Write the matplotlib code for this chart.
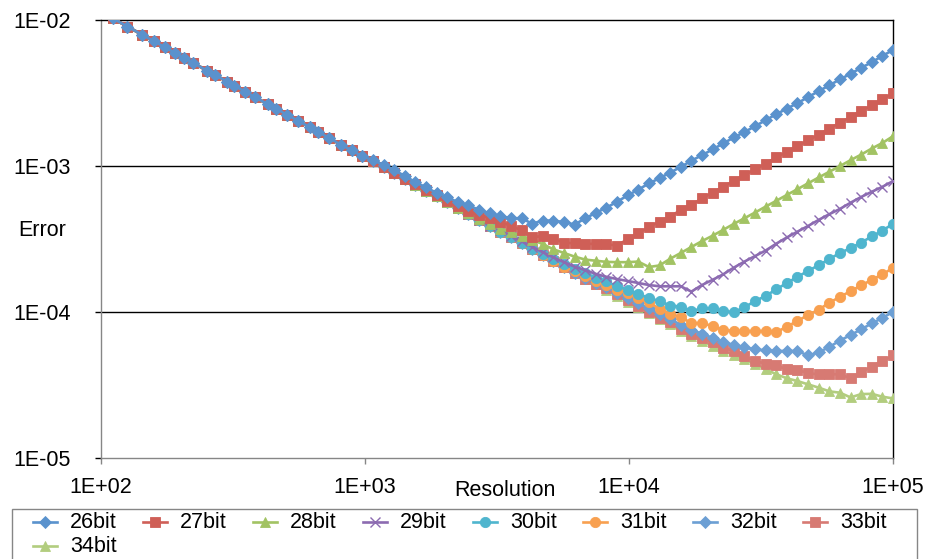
import matplotlib
matplotlib.use("Agg")
import matplotlib.pyplot as plt
from matplotlib.lines import Line2D
from matplotlib.patches import Rectangle
from matplotlib.ticker import FixedLocator, FixedFormatter, NullLocator

plt.rcParams['font.family'] = ['Liberation Sans', 'DejaVu Sans']

# ---- data -------------------------------------------------------------
resolution = [111, 126, 143, 159, 175, 191, 206, 223, 252, 270, 300, 319,
              351, 383, 429, 460, 507, 558, 619, 664, 731, 811, 893, 974,
              1072, 1176, 1290, 1415, 1552, 1703, 1868, 2049, 2248, 2466,
              2705, 2968, 3255, 3571, 3917, 4297, 4715, 5172, 5674, 6223,
              6828, 7490, 8215, 9012, 9886, 10844, 11896, 13050, 14316,
              15704, 17227, 18898, 20730, 22741, 24946, 27365, 30020, 32931,
              36124, 39628, 43471, 47687, 52312, 57385, 62951, 69055, 75752,
              83098, 91155, 100000]

# low-resolution part, identical for every word length
head_error = [1.02e-2, 8.97e-3, 7.90e-3, 7.11e-3, 6.46e-3, 5.92e-3, 5.49e-3,
              5.07e-3, 4.48e-3, 4.19e-3, 3.77e-3, 3.54e-3, 3.22e-3, 2.95e-3,
              2.63e-3, 2.46e-3, 2.23e-3, 2.03e-3, 1.83e-3, 1.70e-3, 1.55e-3,
              1.39e-3, 1.27e-3, 1.16e-3]

# discretisation-limited error shared until each curve levels off
shared_error = [1.07e-3, 9.75e-4, 8.9e-4, 8.12e-4, 7.4e-4, 6.75e-4, 6.16e-4,
                5.61e-4, 5.12e-4, 4.66e-4, 4.25e-4, 3.87e-4, 3.53e-4, 3.22e-4,
                2.94e-4, 2.68e-4, 2.44e-4, 2.22e-4, 2.03e-4, 1.85e-4, 1.68e-4,
                1.54e-4, 1.41e-4, 1.28e-4, 1.17e-4, 1.07e-4, 9.8e-5, 8.95e-5,
                8.2e-5]

err_26bit = head_error + [
    1.09e-3, 1.01e-3, 9.3e-4, 8.5e-4, 7.7e-4, 7.1e-4, 6.5e-4, 6.1e-4, 5.6e-4, 5.35e-4,
    4.97e-4, 4.72e-4, 4.5e-4, 4.36e-4, 4.36e-4, 4.0e-4, 4.2e-4, 4.2e-4, 4.1e-4, 3.95e-4,
    4.35e-4, 4.75e-4, 5.15e-4, 5.66e-4, 6.25e-4, 6.85e-4, 7.55e-4, 8.2e-4, 8.95e-4, 9.8e-4,
    1.08e-3, 1.18e-3, 1.29e-3, 1.42e-3, 1.56e-3, 1.70e-3, 1.86e-3, 2.05e-3, 2.25e-3, 2.46e-3,
    2.68e-3, 2.95e-3, 3.24e-3, 3.55e-3, 3.9e-3, 4.26e-3, 4.68e-3, 5.11e-3, 5.65e-3, 6.2e-3]

err_27bit = head_error + [
    1.07e-3, 9.75e-4, 8.9e-4, 8.15e-4, 7.45e-4, 6.8e-4, 6.25e-4, 5.75e-4, 5.25e-4, 4.85e-4,
    4.6e-4, 4.36e-4, 4.12e-4, 3.87e-4, 3.6e-4, 3.25e-4, 3.28e-4, 3.13e-4, 2.97e-4, 2.93e-4,
    2.91e-4, 2.91e-4, 2.9e-4, 2.83e-4, 3.14e-4, 3.44e-4, 3.8e-4, 4.13e-4, 4.47e-4, 4.97e-4,
    5.37e-4, 5.97e-4, 6.52e-4, 7.16e-4, 7.87e-4, 8.61e-4, 9.46e-4, 1.03e-3, 1.14e-3, 1.24e-3,
    1.36e-3, 1.49e-3, 1.63e-3, 1.79e-3, 1.97e-3, 2.15e-3, 2.37e-3, 2.59e-3, 2.84e-3, 3.14e-3]

err_28bit = head_error + shared_error[:9] + [
    4.72e-4, 4.33e-4, 3.98e-4, 3.7e-4, 3.5e-4, 3.3e-4, 3.1e-4, 2.9e-4, 2.67e-4, 2.52e-4,
    2.38e-4, 2.27e-4, 2.23e-4, 2.19e-4, 2.18e-4, 2.18e-4, 2.2e-4, 2.02e-4, 2.07e-4, 2.3e-4,
    2.52e-4, 2.77e-4, 3.04e-4, 3.31e-4, 3.63e-4, 3.99e-4, 4.36e-4, 4.77e-4, 5.24e-4, 5.74e-4,
    6.3e-4, 6.9e-4, 7.57e-4, 8.3e-4, 9.08e-4, 9.93e-4, 1.09e-3, 1.19e-3, 1.31e-3, 1.43e-3,
    1.59e-3]

err_29bit = head_error + shared_error[:12] + [
    3.6e-4, 3.3e-4, 3.03e-4, 2.78e-4, 2.55e-4, 2.35e-4, 2.18e-4, 2.03e-4, 1.92e-4, 1.81e-4,
    1.73e-4, 1.67e-4, 1.62e-4, 1.57e-4, 1.52e-4, 1.49e-4, 1.49e-4, 1.49e-4, 1.37e-4, 1.52e-4,
    1.65e-4, 1.8e-4, 2.0e-4, 2.2e-4, 2.4e-4, 2.62e-4, 2.92e-4, 3.22e-4, 3.53e-4, 3.86e-4,
    4.25e-4, 4.65e-4, 5.05e-4, 5.57e-4, 6.1e-4, 6.62e-4, 7.16e-4, 7.83e-4]

err_30bit = head_error + shared_error[:16] + [
    2.48e-4, 2.28e-4, 2.11e-4, 1.97e-4, 1.84e-4, 1.71e-4, 1.61e-4, 1.49e-4, 1.41e-4, 1.32e-4,
    1.24e-4, 1.18e-4, 1.1e-4, 1.08e-4, 1.01e-4, 1.05e-4, 1.05e-4, 1.01e-4, 9.9e-5, 1.07e-4,
    1.18e-4, 1.28e-4, 1.42e-4, 1.57e-4, 1.73e-4, 1.9e-4, 2.08e-4, 2.29e-4, 2.52e-4, 2.72e-4,
    2.97e-4, 3.27e-4, 3.59e-4, 3.99e-4]

err_31bit = head_error + shared_error[:19] + [
    1.9e-4, 1.74e-4, 1.62e-4, 1.52e-4, 1.41e-4, 1.33e-4, 1.24e-4, 1.16e-4, 1.04e-4, 9.65e-5,
    9.2e-5, 8.3e-5, 8.35e-5, 7.95e-5, 7.5e-5, 7.35e-5, 7.35e-5, 7.35e-5, 7.35e-5, 7.2e-5,
    7.9e-5, 8.6e-5, 9.5e-5, 1.03e-4, 1.15e-4, 1.26e-4, 1.38e-4, 1.51e-4, 1.65e-4, 1.8e-4,
    1.99e-4]

err_32bit = head_error + shared_error[:20] + [
    1.71e-4, 1.58e-4, 1.47e-4, 1.35e-4, 1.24e-4, 1.14e-4, 1.05e-4, 9.6e-5, 8.9e-5, 8.1e-5,
    7.5e-5, 7.05e-5, 6.6e-5, 6.2e-5, 5.9e-5, 5.7e-5, 5.5e-5, 5.42e-5, 5.36e-5, 5.38e-5,
    5.36e-5, 5.0e-5, 5.26e-5, 5.72e-5, 6.33e-5, 6.9e-5, 7.55e-5, 8.3e-5, 9.05e-5, 9.95e-5]

err_33bit = head_error + shared_error[:22] + [
    1.44e-4, 1.31e-4, 1.2e-4, 1.09e-4, 1.0e-4, 9.1e-5, 8.5e-5, 7.65e-5, 6.97e-5, 6.6e-5,
    6.15e-5, 5.67e-5, 5.36e-5, 4.95e-5, 4.58e-5, 4.4e-5, 4.28e-5, 4.01e-5, 4.0e-5, 3.77e-5,
    3.72e-5, 3.72e-5, 3.72e-5, 3.48e-5, 3.84e-5, 4.2e-5, 4.58e-5, 5.0e-5]

err_34bit = head_error + shared_error[:29] + [
    7.4e-5, 6.8e-5, 6.3e-5, 5.8e-5, 5.35e-5, 5.05e-5, 4.7e-5, 4.34e-5, 4.02e-5, 3.72e-5,
    3.49e-5, 3.34e-5, 3.17e-5, 3.01e-5, 2.84e-5, 2.78e-5, 2.58e-5, 2.72e-5, 2.73e-5, 2.61e-5,
    2.54e-5]

series_labels = ["26bit", "27bit", "28bit", "29bit", "30bit",
                 "31bit", "32bit", "33bit", "34bit"]
series_errors = [err_26bit, err_27bit, err_28bit, err_29bit, err_30bit,
                 err_31bit, err_32bit, err_33bit, err_34bit]

x_tick_values = [1e2, 1e3, 1e4, 1e5]
x_tick_labels = ["1E+02", "1E+03", "1E+04", "1E+05"]
y_tick_values = [1e-5, 1e-4, 1e-3, 1e-2]
y_tick_labels = ["1E-05", "1E-04", "1E-03", "1E-02"]

# ---- styling ----------------------------------------------------------
styles = [
    dict(color="#5A92CD", marker="D", ms=6.2),
    dict(color="#CF5F57", marker="s", ms=7.0),
    dict(color="#A2C363", marker="^", ms=7.8),
    dict(color="#8C6BB1", marker="x", ms=7.2, mew=1.0),
    dict(color="#4FB5CE", marker="o", ms=7.4),
    dict(color="#F8A050", marker="o", ms=7.4),
    dict(color="#6C9FD4", marker="D", ms=6.2),
    dict(color="#D77A73", marker="s", ms=7.0),
    dict(color="#B2CD7E", marker="^", ms=7.8),
]
AXIS_GREY = "#868686"
FS = 15.5
W, H = 930, 559


def fig_xy(px, py):
    return px / W, 1 - py / H


fig = plt.figure(figsize=(W / 100, H / 100), dpi=100)
ax_left, ax_right, ax_top, ax_bottom = 101, 893, 19.7, 457.5
ax = fig.add_axes([ax_left / W, 1 - ax_bottom / H,
                   (ax_right - ax_left) / W, (ax_bottom - ax_top) / H])

ax.set_xscale("log")
ax.set_yscale("log")
ax.set_xlim(x_tick_values[0], x_tick_values[-1])
ax.set_ylim(y_tick_values[0], y_tick_values[-1])

for i, (err, st) in enumerate(zip(series_errors, styles)):
    ax.plot(resolution, err, color=st["color"], lw=1.9, marker=st["marker"],
            ms=st["ms"], mew=st.get("mew", 0.6), mec=st["color"],
            mfc=st["color"], zorder=20 - i, solid_joinstyle="round")

# horizontal major gridlines
for yv in y_tick_values[1:-1]:
    ax.axhline(yv, color="black", lw=1.0, zorder=1)

ax.xaxis.set_major_locator(FixedLocator(x_tick_values))
ax.xaxis.set_major_formatter(FixedFormatter(x_tick_labels))
ax.yaxis.set_major_locator(FixedLocator(y_tick_values))
ax.yaxis.set_major_formatter(FixedFormatter(y_tick_labels))
ax.xaxis.set_minor_locator(NullLocator())
ax.yaxis.set_minor_locator(NullLocator())

ax.tick_params(axis="x", direction="out", length=4, width=1, color=AXIS_GREY,
               labelsize=FS, pad=10)
ax.tick_params(axis="y", direction="out", length=4, width=1, color="black",
               labelsize=FS, pad=18)

ax.spines["top"].set_color("black")
ax.spines["right"].set_color("black")
ax.spines["left"].set_color(AXIS_GREY)
ax.spines["bottom"].set_color(AXIS_GREY)
for s in ax.spines.values():
    s.set_linewidth(1.0)

fig.text(*fig_xy(505, 490), "Resolution", ha="center", va="center", fontsize=FS)
fig.text(*fig_xy(42, 230), "Error", ha="center", va="center", fontsize=FS)

# legend box along the bottom edge
lx0, ly0 = fig_xy(12, 575)
lx1, ly1 = fig_xy(917, 509)
fig.patches.append(Rectangle((lx0, ly0), lx1 - lx0, ly1 - ly0,
                             transform=fig.transFigure, fill=False,
                             edgecolor=AXIS_GREY, lw=1.0, clip_on=False))
for i, (lab, st) in enumerate(zip(series_labels, styles)):
    row, col = divmod(i, 8)
    cx = 45 + 110 * col
    cy = 522 + 24 * row
    xa, ya = fig_xy(cx - 12, cy)
    xb, _ = fig_xy(cx + 12, cy)
    xm, _ = fig_xy(cx, cy)
    fig.lines.append(Line2D([xa, xb], [ya, ya], transform=fig.transFigure,
                            color=st["color"], lw=1.9))
    fig.lines.append(Line2D([xm], [ya], transform=fig.transFigure,
                            color=st["color"], marker=st["marker"],
                            ms=st["ms"], mew=st.get("mew", 0.6),
                            mec=st["color"], mfc=st["color"]))
    fig.text(*fig_xy(cx + 25, cy), lab, ha="left", va="center", fontsize=FS)

fig.savefig("out.png", dpi=100)
